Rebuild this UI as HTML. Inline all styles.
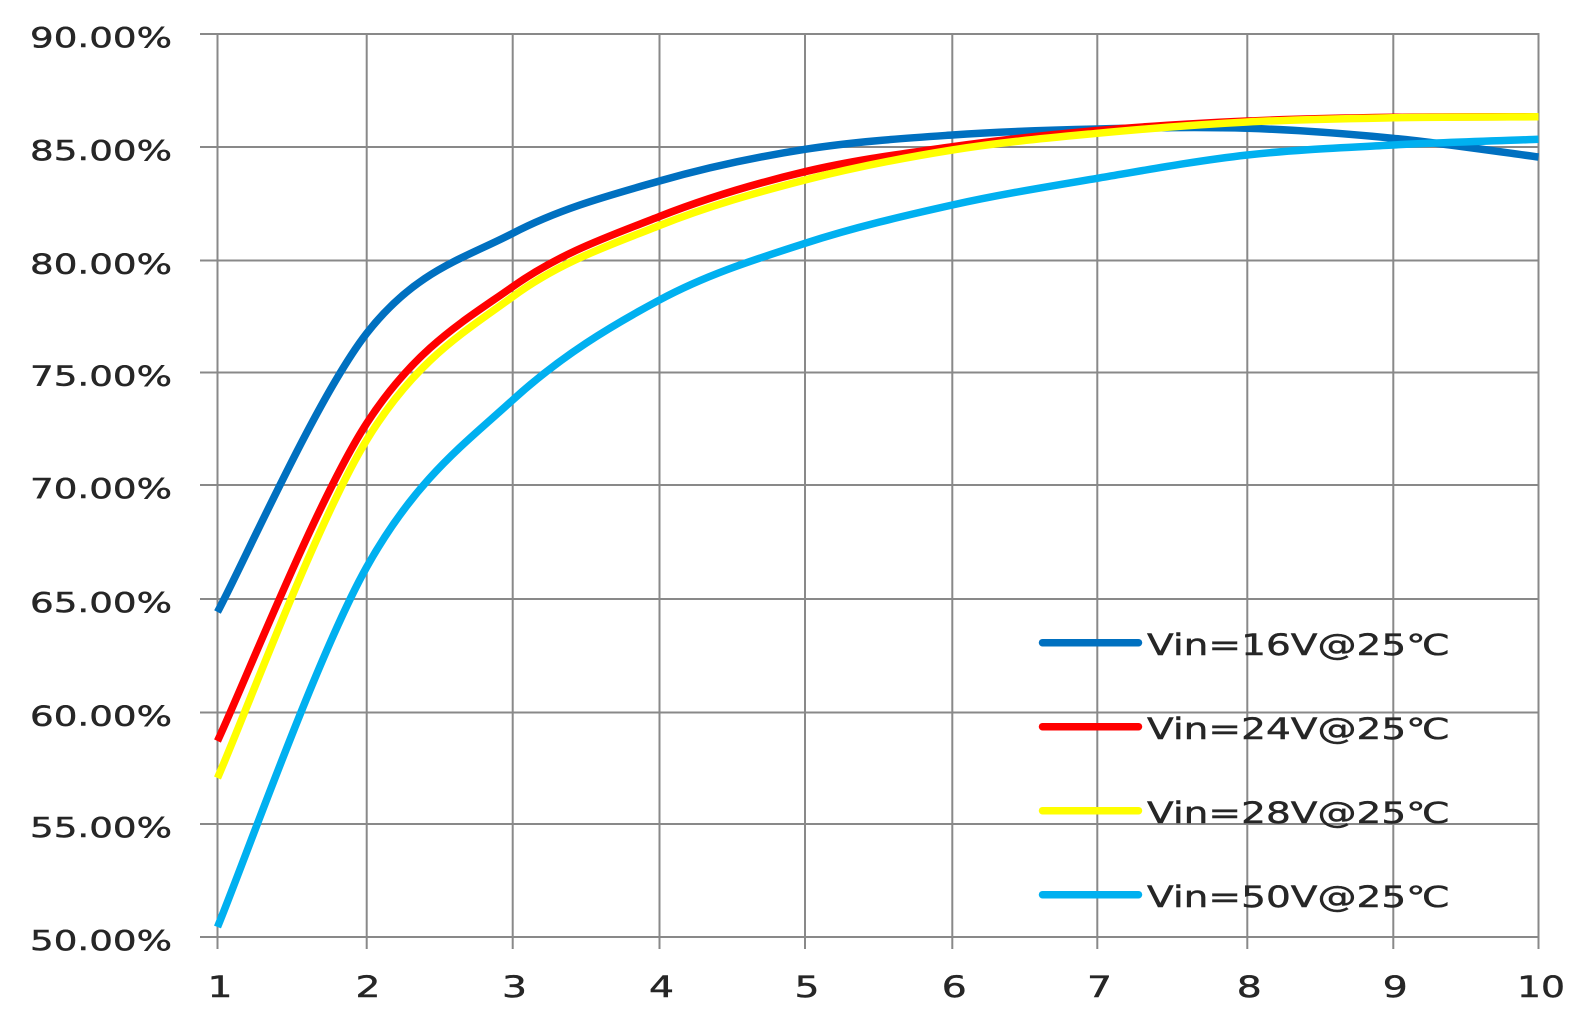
<!DOCTYPE html>
<html>
<head>
<meta charset="utf-8">
<style>
  html, body { margin: 0; padding: 0; background: #fff; }
  svg { display: block; }
  text { font-family: "DejaVu Sans", "Liberation Sans", "Noto Sans CJK SC", sans-serif; fill: #262626; stroke: #262626; stroke-width: 0.45px; }
</style>
</head>
<body>
<svg width="1579" height="1025" viewBox="0 0 1579 1025" xmlns="http://www.w3.org/2000/svg">
  <rect x="0" y="0" width="1579" height="1025" fill="#ffffff"/>

  <!-- horizontal gridlines -->
  <g stroke="#898989" stroke-width="2" fill="none">
    <line x1="200" y1="34" x2="1539.5" y2="34"/>
    <line x1="200" y1="147" x2="1539.5" y2="147"/>
    <line x1="200" y1="260.5" x2="1539.5" y2="260.5"/>
    <line x1="200" y1="372.5" x2="1539.5" y2="372.5"/>
    <line x1="200" y1="485" x2="1539.5" y2="485"/>
    <line x1="200" y1="599" x2="1539.5" y2="599"/>
    <line x1="200" y1="712.5" x2="1539.5" y2="712.5"/>
    <line x1="200" y1="824" x2="1539.5" y2="824"/>
    <line x1="200" y1="937" x2="1539.5" y2="937"/>
  </g>
  <!-- vertical gridlines -->
  <g stroke="#898989" stroke-width="2" fill="none">
    <line x1="217.5" y1="33" x2="217.5" y2="949"/>
    <line x1="366.7" y1="33" x2="366.7" y2="949"/>
    <line x1="512.7" y1="33" x2="512.7" y2="949"/>
    <line x1="659.5" y1="33" x2="659.5" y2="949"/>
    <line x1="805" y1="33" x2="805" y2="949"/>
    <line x1="952.3" y1="33" x2="952.3" y2="949"/>
    <line x1="1097.3" y1="33" x2="1097.3" y2="949"/>
    <line x1="1247.3" y1="33" x2="1247.3" y2="949"/>
    <line x1="1393.3" y1="33" x2="1393.3" y2="949"/>
    <line x1="1538.5" y1="33" x2="1538.5" y2="949"/>
  </g>

  <!-- y-axis labels -->
  <g font-size="28">
    <text x="30" y="47" textLength="142" lengthAdjust="spacingAndGlyphs">90.00%</text>
    <text x="30" y="160" textLength="142" lengthAdjust="spacingAndGlyphs">85.00%</text>
    <text x="30" y="273.5" textLength="142" lengthAdjust="spacingAndGlyphs">80.00%</text>
    <text x="30" y="385.5" textLength="142" lengthAdjust="spacingAndGlyphs">75.00%</text>
    <text x="30" y="498" textLength="142" lengthAdjust="spacingAndGlyphs">70.00%</text>
    <text x="30" y="612" textLength="142" lengthAdjust="spacingAndGlyphs">65.00%</text>
    <text x="30" y="725.5" textLength="142" lengthAdjust="spacingAndGlyphs">60.00%</text>
    <text x="30" y="837" textLength="142" lengthAdjust="spacingAndGlyphs">55.00%</text>
    <text x="30" y="950" textLength="142" lengthAdjust="spacingAndGlyphs">50.00%</text>
  </g>

  <!-- x-axis labels -->
  <g font-size="29" text-anchor="middle">
    <text x="220" y="997" textLength="25" lengthAdjust="spacingAndGlyphs">1</text>
    <text x="368" y="997" textLength="25" lengthAdjust="spacingAndGlyphs">2</text>
    <text x="514.5" y="997" textLength="25" lengthAdjust="spacingAndGlyphs">3</text>
    <text x="661.5" y="997" textLength="25" lengthAdjust="spacingAndGlyphs">4</text>
    <text x="807" y="997" textLength="25" lengthAdjust="spacingAndGlyphs">5</text>
    <text x="954.3" y="997" textLength="25" lengthAdjust="spacingAndGlyphs">6</text>
    <text x="1099.5" y="997" textLength="25" lengthAdjust="spacingAndGlyphs">7</text>
    <text x="1249.3" y="997" textLength="25" lengthAdjust="spacingAndGlyphs">8</text>
    <text x="1395.3" y="997" textLength="25" lengthAdjust="spacingAndGlyphs">9</text>
    <text x="1541" y="997" textLength="48" lengthAdjust="spacingAndGlyphs">10</text>
  </g>

  <!-- series -->
  <g fill="none" stroke-width="7.5" stroke-linejoin="round" stroke-linecap="butt">
    <!-- Vin=16V -->
    <path stroke="#0070C0" d="M217.5,612 C242.4,565.55 317.5,396.42 366.7,333.3 C415.9,270.18 463.9,258.68 512.7,233.3 C561.5,207.92 610.8,195 659.5,181 C708.2,167 756.2,156.97 805,149.3 C853.8,141.63 903.6,138.38 952.3,135 C1001,131.62 1048.1,130.12 1097.3,129 C1146.5,127.88 1198,126.75 1247.3,128.3 C1296.6,129.85 1344.8,133.52 1393.3,138.3 C1441.8,143.08 1514.3,153.88 1538.5,157"/>
    <!-- Vin=24V -->
    <path stroke="#FF0000" d="M217.5,741 C242.4,688.05 317.5,499.02 366.7,423.3 C415.9,347.58 463.9,321.17 512.7,286.7 C561.5,252.23 610.8,235.67 659.5,216.5 C708.2,197.33 756.2,183.33 805,171.7 C853.8,160.07 903.6,153.57 952.3,146.7 C1001,139.83 1048.1,134.78 1097.3,130.5 C1146.5,126.22 1198,123.2 1247.3,121 C1296.6,118.8 1344.8,118.02 1393.3,117.3 C1441.8,116.58 1514.3,116.8 1538.5,116.7"/>
    <!-- Vin=28V -->
    <path stroke="#FFFF00" d="M217.5,778 C242.4,721.67 317.5,520.22 366.7,440 C415.9,359.78 463.9,332.45 512.7,296.7 C561.5,260.95 610.8,244.95 659.5,225.5 C708.2,206.05 756.2,192.58 805,180 C853.8,167.42 903.6,157.78 952.3,150 C1001,142.22 1048.1,137.97 1097.3,133.3 C1146.5,128.63 1198,124.58 1247.3,122 C1296.6,119.42 1344.8,118.67 1393.3,117.8 C1441.8,116.93 1514.3,116.97 1538.5,116.8"/>
    <!-- Vin=50V -->
    <path stroke="#00B0F0" d="M217.5,927 C242.4,867 317.5,654.83 366.7,567 C415.9,479.17 463.9,444.5 512.7,400 C561.5,355.5 610.8,326.12 659.5,300 C708.2,273.88 756.2,259.13 805,243.3 C853.8,227.47 903.6,215.83 952.3,205 C1001,194.17 1048.1,186.63 1097.3,178.3 C1146.5,169.97 1198,160.55 1247.3,155 C1296.6,149.45 1344.8,147.62 1393.3,145 C1441.8,142.38 1514.3,140.25 1538.5,139.3"/>
  </g>

  <!-- legend -->
  <g stroke-width="7.5" stroke-linecap="round">
    <line x1="1042.5" y1="642.7" x2="1138.5" y2="642.7" stroke="#0070C0"/>
    <line x1="1042.5" y1="726.7" x2="1138.5" y2="726.7" stroke="#FF0000"/>
    <line x1="1042.5" y1="810.7" x2="1138.5" y2="810.7" stroke="#FFFF00"/>
    <line x1="1042.5" y1="894.7" x2="1138.5" y2="894.7" stroke="#00B0F0"/>
  </g>
  <g font-size="29">
    <text x="1147" y="655" textLength="303" lengthAdjust="spacingAndGlyphs">Vin=16V@25℃</text>
    <text x="1147" y="739" textLength="303" lengthAdjust="spacingAndGlyphs">Vin=24V@25℃</text>
    <text x="1147" y="823" textLength="303" lengthAdjust="spacingAndGlyphs">Vin=28V@25℃</text>
    <text x="1147" y="907" textLength="303" lengthAdjust="spacingAndGlyphs">Vin=50V@25℃</text>
  </g>
</svg>
</body>
</html>
